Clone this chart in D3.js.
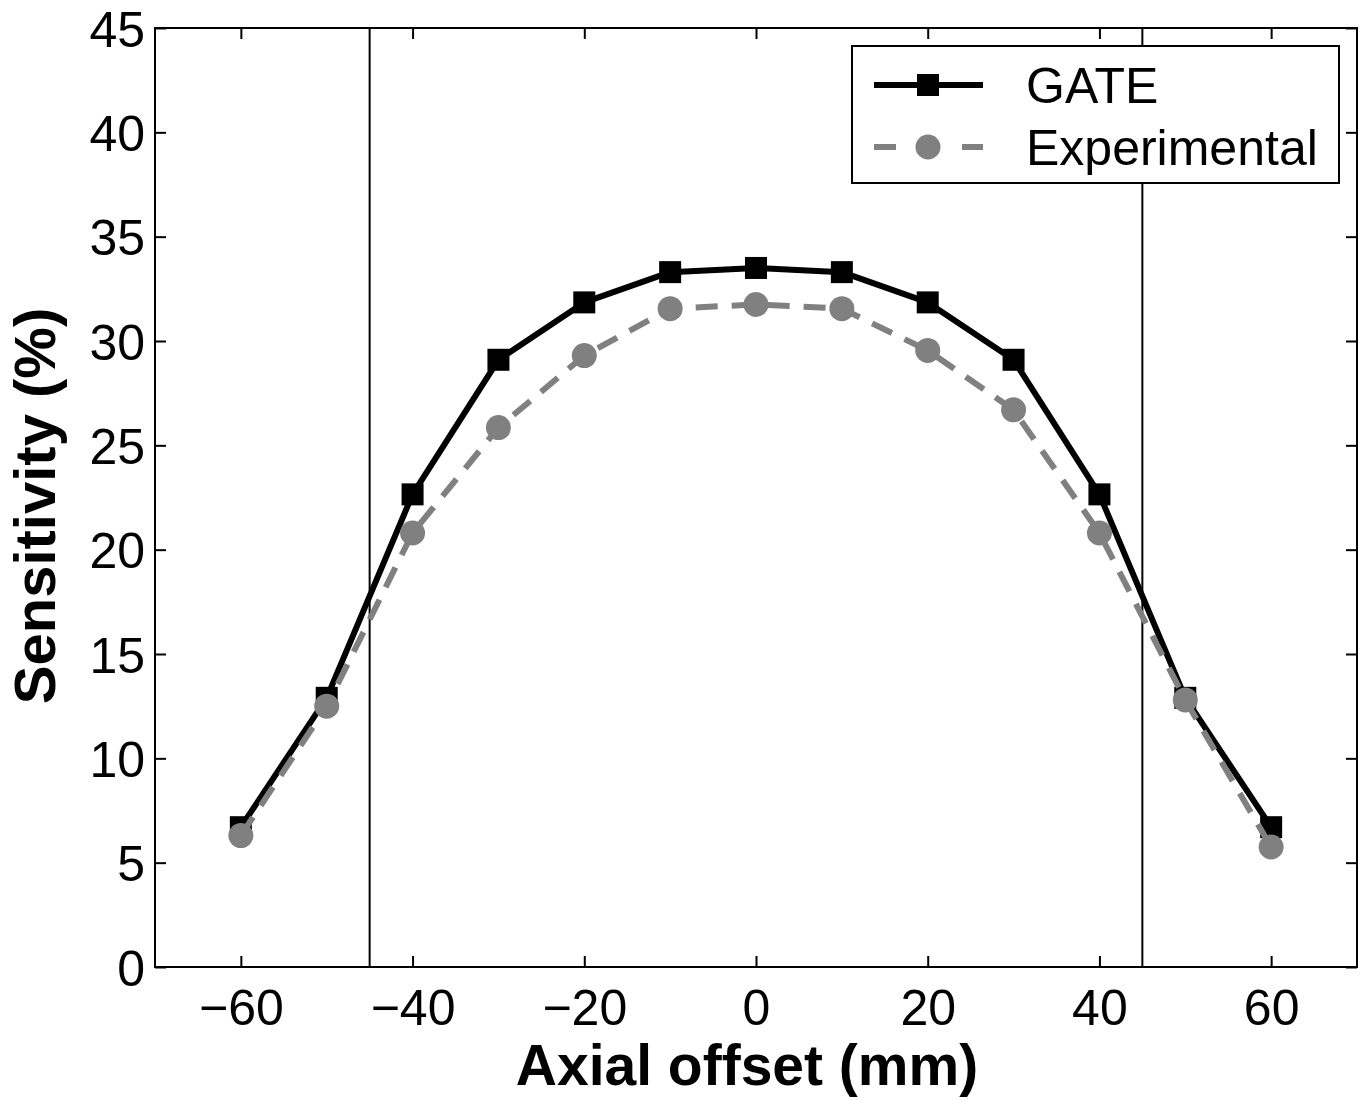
<!DOCTYPE html>
<html lang="en">
<head>
<meta charset="utf-8">
<title>Sensitivity vs axial offset</title>
<script src="https://cdn.jsdelivr.net/npm/d3@7"></script>
<style>
  body { margin: 0; background: #fff; }
  text { font-family: "Liberation Sans", Arial, Helvetica, sans-serif; }
</style>
</head>
<body>
<script>
// data
var offsets = [-60, -50, -40, -30, -20, -10, 0, 10, 20, 30, 40, 50, 60];
var gate = [6.7, 12.9, 22.65, 29.1, 31.85, 33.3, 33.5, 33.3, 31.85, 29.1, 22.65, 12.9, 6.7];
var experimental = [6.3, 12.5, 20.8, 25.85, 29.3, 31.55, 31.75, 31.55, 29.55, 26.7, 20.8, 12.8, 5.75];
var xTicks = [-60, -40, -20, 0, 20, 40, 60];
var yTicks = [0, 5, 10, 15, 20, 25, 30, 35, 40, 45];
var fovLimits = [-45, 45];
var seriesNames = ["GATE", "Experimental"];

var W = 1363, H = 1100;
var margin = {left: 155, top: 28, right: 6, bottom: 133};
var w = W - margin.left - margin.right;
var h = H - margin.top - margin.bottom;

var svg = d3.select("body").append("svg")
    .attr("width", W)
    .attr("height", H);

var g = svg.append("g")
    .attr("transform", "translate(" + margin.left + "," + margin.top + ")");

var xScale = d3.scaleLinear().domain([-70, 70]).range([0, w]);
var yScale = d3.scaleLinear().domain([0, 45]).range([h, 0]);

var fmt = function(d) { return d < 0 ? "\u2212" + Math.abs(d) : String(d); };
var tickLen = 11;

function styleAxis(sel) {
    sel.select(".domain").remove();
    sel.selectAll("line").attr("stroke", "#000").attr("stroke-width", 2);
    sel.selectAll("text").attr("fill", "#000").style("font-size", "50px");
}

// bottom and left axes with labels, ticks pointing inward
g.append("g")
    .attr("transform", "translate(0," + h + ")")
    .call(d3.axisBottom(xScale).tickValues(xTicks).tickFormat(fmt)
        .tickSizeInner(-tickLen).tickSizeOuter(0).tickPadding(22))
    .call(styleAxis);

g.append("g")
    .call(d3.axisLeft(yScale).tickValues(yTicks).tickFormat(fmt)
        .tickSizeInner(-tickLen).tickSizeOuter(0).tickPadding(10))
    .call(styleAxis)
    .selectAll("text").attr("dy", "0.36em");

// top and right ticks (no labels)
g.append("g")
    .call(d3.axisTop(xScale).tickValues(xTicks).tickFormat("")
        .tickSizeInner(-tickLen).tickSizeOuter(0))
    .call(styleAxis);

g.append("g")
    .attr("transform", "translate(" + w + ",0)")
    .call(d3.axisRight(yScale).tickValues(yTicks).tickFormat("")
        .tickSizeInner(-tickLen).tickSizeOuter(0))
    .call(styleAxis);

// box
g.append("rect")
    .attr("width", w).attr("height", h)
    .attr("fill", "none").attr("stroke", "#000").attr("stroke-width", 2);

// vertical limit lines
g.selectAll(".vline")
    .data(fovLimits)
    .enter().append("line")
    .attr("x1", function(d) { return xScale(d); })
    .attr("x2", function(d) { return xScale(d); })
    .attr("y1", 0).attr("y2", h)
    .attr("stroke", "#000").attr("stroke-width", 2);

var line = d3.line()
    .x(function(d) { return xScale(d[0]); })
    .y(function(d) { return yScale(d[1]); });

var gateData = offsets.map(function(x, i) { return [x, gate[i]]; });
var expData = offsets.map(function(x, i) { return [x, experimental[i]]; });

// GATE
g.append("path")
    .datum(gateData)
    .attr("d", line)
    .attr("fill", "none").attr("stroke", "#000").attr("stroke-width", 6)
    .attr("stroke-linejoin", "round");

g.selectAll(".sq")
    .data(gateData)
    .enter().append("rect")
    .attr("x", function(d) { return xScale(d[0]) - 11; })
    .attr("y", function(d) { return yScale(d[1]) - 11; })
    .attr("width", 22).attr("height", 22)
    .attr("fill", "#000");

// Experimental
g.append("path")
    .datum(expData)
    .attr("d", line)
    .attr("fill", "none").attr("stroke", "#808080").attr("stroke-width", 6)
    .attr("stroke-dasharray", "22,14");

g.selectAll(".dot")
    .data(expData)
    .enter().append("circle")
    .attr("cx", function(d) { return xScale(d[0]); })
    .attr("cy", function(d) { return yScale(d[1]); })
    .attr("r", 12.5)
    .attr("fill", "#808080");

// legend
var leg = svg.append("g").attr("transform", "translate(852,46)");
leg.append("rect")
    .attr("width", 487).attr("height", 137)
    .attr("fill", "#fff").attr("stroke", "#000").attr("stroke-width", 2);

leg.append("line")
    .attr("x1", 22).attr("x2", 131).attr("y1", 39).attr("y2", 39)
    .attr("stroke", "#000").attr("stroke-width", 6);
leg.append("rect")
    .attr("x", 65).attr("y", 28).attr("width", 22).attr("height", 22)
    .attr("fill", "#000");

leg.append("line")
    .attr("x1", 22).attr("x2", 131).attr("y1", 101).attr("y2", 101)
    .attr("stroke", "#808080").attr("stroke-width", 6)
    .attr("stroke-dasharray", "22,66");
leg.append("circle")
    .attr("cx", 76).attr("cy", 101).attr("r", 12.5)
    .attr("fill", "#808080");

leg.selectAll(".lt")
    .data(seriesNames)
    .enter().append("text")
    .attr("x", 174)
    .attr("y", function(d, i) { return 39 + i * 62; })
    .attr("dy", "0.36em")
    .style("font-size", "50px")
    .attr("fill", "#000")
    .text(function(d) { return d; });

// axis titles
svg.append("text")
    .attr("x", 747)
    .attr("y", 1085)
    .attr("text-anchor", "middle")
    .style("font-size", "57px").style("font-weight", "bold")
    .text("Axial offset (mm)");

svg.append("text")
    .attr("transform", "translate(55,506) rotate(-90)")
    .attr("text-anchor", "middle")
    .style("font-size", "58px").style("font-weight", "bold")
    .text("Sensitivity (%)");
</script>
</body>
</html>
